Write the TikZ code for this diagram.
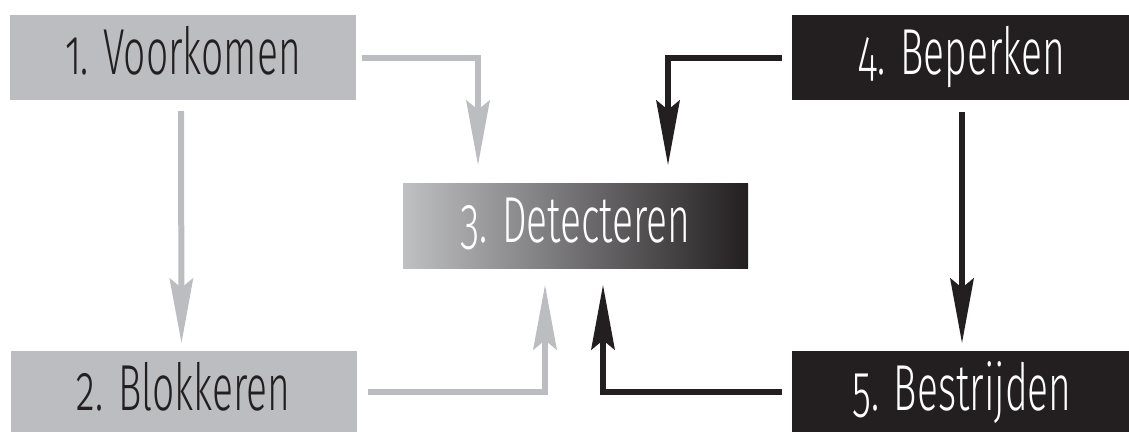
\documentclass[tikz,border=0pt]{standalone}
\usepackage{fontspec}
\setmainfont{Fira Sans}[UprightFont=* Light, FakeStretch=0.6, Numbers=OldStyle]
\usetikzlibrary{arrows.meta}
\definecolor{boxgray}{RGB}{188,189,192}
\definecolor{boxblack}{RGB}{35,31,32}
\tikzset{
  stage/.style={rectangle, minimum width=346pt, minimum height=85pt, inner sep=0pt,
    text height=45pt, text depth=12pt,
    font=\fontsize{65}{70}\selectfont},
  graybox/.style={stage, fill=boxgray, text=boxblack},
  blackbox/.style={stage, fill=boxblack, text=white},
  gradbox/.style={stage, left color=boxgray!95!white, right color=boxblack, text=white},
  conn/.style={line width=6pt, -{Stealth[length=65pt, width=24pt, inset=10pt, line width=0pt]}},
  garr/.style={conn, draw=boxgray},
  barr/.style={conn, draw=boxblack}
}
\begin{document}
\begin{tikzpicture}[x=1pt, y=-1pt]
\useasboundingbox (0,0) rectangle (1129,431);
\node[graybox] (v1) at (183,57.5) {1. Voorkomen};
\node[graybox] (v2) at (183.5,393.5) {2. Blokkeren};
\node[gradbox, minimum width=345pt] (v3) at (575.5,225.5) {3. Detecteren};
\node[blackbox, minimum width=340pt] (v4) at (962,57.5) {4. Beperken};
\node[blackbox, minimum width=340pt] (v5) at (962,393.5) {5. Bestrijden};

\draw[garr] ([xshift=6pt]v1.east) -| ([xshift=-97.5pt, yshift=18pt]v3.north);
\draw[garr] ([xshift=-2pt, yshift=-11pt]v1.south) -- ([xshift=-2pt, yshift=8pt]v2.north);
\draw[garr] ([xshift=11pt, yshift=1.5pt]v2.east) -| ([xshift=-30.5pt, yshift=-17pt]v3.south);
\draw[barr] ([xshift=-10pt]v4.west) -| ([xshift=92.5pt, yshift=18pt]v3.north);
\draw[barr] ([yshift=-12pt]v4.south) -- ([yshift=8pt]v5.north);
\draw[barr] ([xshift=-10pt, yshift=1.5pt]v5.west) -| ([xshift=27.5pt, yshift=-17pt]v3.south);
\end{tikzpicture}
\end{document}
